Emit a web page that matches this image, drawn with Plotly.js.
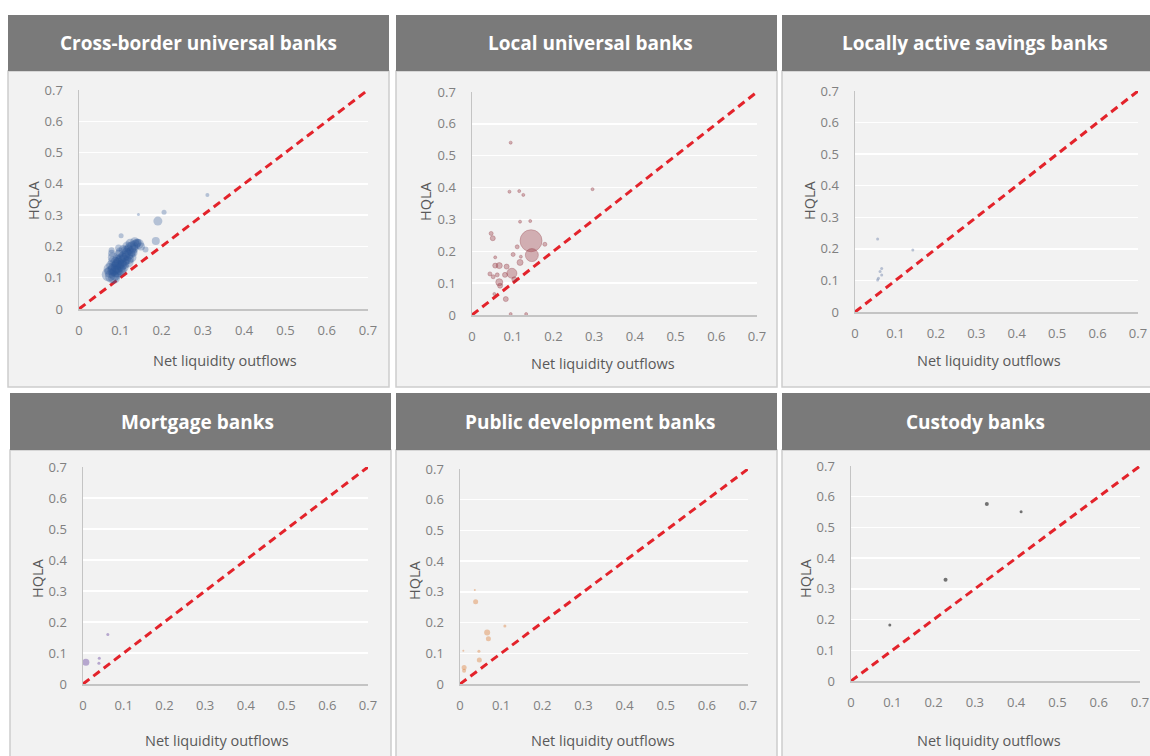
<!DOCTYPE html>
<html>
<head>
<meta charset="utf-8">
<script src="https://cdn.plot.ly/plotly-3.0.1.min.js"></script>
<style>
  html, body { margin: 0; padding: 0; background: #ffffff; }
  #chart { width: 1150px; height: 756px; }
</style>
</head>
<body>
<div id="chart"></div>
<script>
// Panel titles
const panelTitles = [
  'Cross-border universal banks',
  'Local universal banks',
  'Locally active savings banks',
  'Mortgage banks',
  'Public development banks',
  'Custody banks'
];

// Shared axis ticks
const tickValues = [0, 0.1, 0.2, 0.3, 0.4, 0.5, 0.6, 0.7];
const tickLabels = ['0', '0.1', '0.2', '0.3', '0.4', '0.5', '0.6', '0.7'];
const xTitle = 'Net liquidity outflows';
const yTitle = 'HQLA';

// Cross-border universal banks: net outflows, HQLA, bubble size
const crossBorderX = [0.072, 0.076, 0.080, 0.083, 0.078, 0.086, 0.090, 0.088, 0.093, 0.095,
                      0.098, 0.092, 0.100, 0.103, 0.105, 0.108, 0.110, 0.097, 0.112, 0.115,
                      0.118, 0.120, 0.123, 0.125, 0.128, 0.130, 0.133, 0.136, 0.140, 0.145,
                      0.150, 0.082, 0.087, 0.094, 0.099, 0.106, 0.113, 0.119, 0.127, 0.079,
                      0.085, 0.091, 0.102, 0.107, 0.117, 0.124, 0.135, 0.142, 0.161, 0.186,
                      0.191, 0.206, 0.144, 0.311, 0.102, 0.079, 0.096, 0.074, 0.084, 0.101,
                      0.109, 0.121, 0.131];
const crossBorderY = [0.110, 0.118, 0.105, 0.125, 0.140, 0.130, 0.120, 0.150, 0.135, 0.145,
                      0.128, 0.160, 0.150, 0.140, 0.165, 0.155, 0.170, 0.175, 0.160, 0.180,
                      0.172, 0.190, 0.178, 0.195, 0.185, 0.200, 0.192, 0.205, 0.210, 0.208,
                      0.200, 0.165, 0.112, 0.118, 0.182, 0.135, 0.188, 0.150, 0.165, 0.178,
                      0.100, 0.142, 0.125, 0.190, 0.200, 0.210, 0.215, 0.212, 0.190, 0.217,
                      0.281, 0.309, 0.302, 0.364, 0.234, 0.188, 0.195, 0.128, 0.152, 0.160,
                      0.145, 0.160, 0.180];
const crossBorderSize = [14, 12, 14, 12, 10, 13, 12, 10, 13, 12,
                         12, 9, 13, 11, 10, 12, 11, 9, 12, 10,
                         11, 10, 11, 12, 10, 11, 9, 10, 9, 10,
                         8, 10, 13, 11, 9, 12, 9, 11, 10, 7,
                         12, 10, 11, 9, 10, 9, 9, 8, 6, 8,
                         9, 5, 3, 4, 5, 6, 7, 12, 11, 10,
                         11, 10, 9];

// Local universal banks
const localX = [0.095, 0.092, 0.116, 0.126, 0.296, 0.118, 0.143, 0.047, 0.051, 0.145,
                0.147, 0.179, 0.111, 0.101, 0.118, 0.120, 0.057, 0.057, 0.067, 0.085,
                0.098, 0.081, 0.062, 0.044, 0.052, 0.067, 0.069, 0.055, 0.083, 0.095,
                0.133, 0.104];
const localY = [0.541, 0.387, 0.389, 0.377, 0.395, 0.293, 0.295, 0.256, 0.241, 0.233,
                0.188, 0.222, 0.214, 0.190, 0.165, 0.183, 0.181, 0.155, 0.155, 0.152,
                0.131, 0.126, 0.126, 0.129, 0.120, 0.103, 0.092, 0.066, 0.050, 0.003,
                0.003, 0.112];
const localSize = [3, 3, 3, 3, 3, 3, 3, 4, 5, 22,
                   13, 4, 4, 4, 6, 3, 3, 5, 6, 5,
                   10, 5, 4, 4, 4, 7, 5, 3, 5, 3,
                   3, 5];

// Locally active savings banks
const savingsX = [0.056, 0.143, 0.066, 0.062, 0.066, 0.058, 0.056];
const savingsY = [0.231, 0.196, 0.138, 0.128, 0.117, 0.107, 0.101];
const savingsSize = [3, 3, 3, 3, 3, 3, 3];

// Mortgage banks
const mortgageX = [0.007, 0.040, 0.039, 0.061];
const mortgageY = [0.070, 0.083, 0.067, 0.160];
const mortgageSize = [7, 3, 3, 3];

// Public development banks
const publicX = [0.038, 0.109, 0.066, 0.069, 0.046, 0.047, 0.010, 0.010, 0.008, 0.036];
const publicY = [0.268, 0.189, 0.168, 0.147, 0.107, 0.078, 0.054, 0.043, 0.108, 0.306];
const publicSize = [5, 3, 6, 5, 3, 5, 5, 4, 2, 2];

// Custody banks
const custodyX = [0.329, 0.412, 0.229, 0.094];
const custodyY = [0.576, 0.551, 0.330, 0.182];
const custodySize = [4, 3, 4, 3];

// 45-degree reference line
const diagonal = [0, 0.7];

const W = 1150, H = 756;
const fx = v => v / W;
const fy = v => 1 - v / H;

// Pixel geometry of each panel: box [left, right, headerTop, headerBottom, bodyBottom],
// plot [left, right, top, bottom], title centres, axis-title anchors
const panels = [
  { box: [8, 389, 15, 71, 387],    plot: [79, 368, 90, 309],   titleX: 198,
    xt: [225, 361], yt: [33, 200],
    x: crossBorderX, y: crossBorderY, s: crossBorderSize,
    color: 'rgba(46,89,152,0.45)', edge: 'rgba(46,89,152,0)' },
  { box: [396, 777, 15, 71, 387],  plot: [472, 757, 92, 315],  titleX: 590,
    xt: [603, 363], yt: [426, 201],
    x: localX, y: localY, s: localSize,
    color: 'rgba(150,50,60,0.5)', edge: 'rgba(140,45,55,0.45)' },
  { box: [782, 1160, 15, 71, 387], plot: [855, 1138, 91, 312], titleX: 975,
    xt: [989, 361], yt: [809, 200],
    x: savingsX, y: savingsY, s: savingsSize,
    color: 'rgba(100,122,165,0.6)', edge: 'rgba(0,0,0,0)' },
  { box: [10, 391, 393, 450, 770], plot: [83, 368, 467, 684],  titleX: 197,
    xt: [217, 740], yt: [37, 578],
    x: mortgageX, y: mortgageY, s: mortgageSize,
    color: 'rgba(128,100,175,0.75)', edge: 'rgba(0,0,0,0)' },
  { box: [396, 777, 393, 450, 770], plot: [460, 748, 469, 684], titleX: 590,
    xt: [603, 740], yt: [414, 580],
    x: publicX, y: publicY, s: publicSize,
    color: 'rgba(222,128,60,0.6)', edge: 'rgba(0,0,0,0)' },
  { box: [782, 1160, 393, 450, 770], plot: [851, 1140, 466, 681], titleX: 975,
    xt: [989, 740], yt: [805, 578],
    x: custodyX, y: custodyY, s: custodySize,
    color: 'rgba(40,40,40,0.9)', edge: 'rgba(0,0,0,0)' }
];

const tickFont = { family: 'Open Sans, sans-serif', size: 13, color: '#808080' };
const titleFont = { family: 'Open Sans, sans-serif', size: 14.5, color: '#595959' };

const data = [];
const shapes = [];
const annotations = [];
const layout = {
  width: W, height: H,
  margin: { l: 0, r: 0, t: 0, b: 0 },
  paper_bgcolor: '#ffffff',
  plot_bgcolor: 'rgba(0,0,0,0)',
  showlegend: false,
  shapes: shapes,
  annotations: annotations
};

panels.forEach((p, i) => {
  const n = i === 0 ? '' : String(i + 1);
  const [bl, br, ht, hb, bb] = p.box;
  const [pl, pr, pt, pb] = p.plot;

  // panel body and header
  shapes.push({ type: 'rect', xref: 'paper', yref: 'paper', layer: 'below',
    x0: fx(bl), x1: fx(br), y0: fy(bb), y1: fy(hb),
    fillcolor: '#f2f2f2', line: { color: '#cdcdcd', width: 1.5 } });
  shapes.push({ type: 'rect', xref: 'paper', yref: 'paper', layer: 'below',
    x0: fx(bl), x1: fx(br), y0: fy(hb), y1: fy(ht),
    fillcolor: '#7a7a7a', line: { width: 0 } });

  annotations.push({ xref: 'paper', yref: 'paper', x: fx(p.titleX), y: fy((ht + hb) / 2),
    text: panelTitles[i], showarrow: false, xanchor: 'center', yanchor: 'middle',
    font: { family: 'Open Sans, sans-serif', size: 19, color: '#ffffff', weight: 700 } });
  annotations.push({ xref: 'paper', yref: 'paper', x: fx(p.xt[0]), y: fy(p.xt[1]),
    text: xTitle, showarrow: false, xanchor: 'center', yanchor: 'middle', font: titleFont });
  annotations.push({ xref: 'paper', yref: 'paper', x: fx(p.yt[0]), y: fy(p.yt[1]),
    text: yTitle, showarrow: false, textangle: -90, xanchor: 'center', yanchor: 'middle',
    font: titleFont });

  layout['xaxis' + n] = {
    domain: [fx(pl), fx(pr)], anchor: 'y' + n, range: [0, 0.7],
    tickvals: tickValues, ticktext: tickLabels, ticks: '', ticklabelstandoff: 9,
    showgrid: false, zeroline: false, showline: true, linecolor: '#c4c4c4', linewidth: 1.5,
    tickfont: tickFont, fixedrange: true
  };
  layout['yaxis' + n] = {
    domain: [fy(pb), fy(pt)], anchor: 'x' + n, range: [0, 0.7],
    tickvals: tickValues, ticktext: tickLabels, ticks: '', ticklabelstandoff: 12,
    showgrid: true, gridcolor: '#ffffff', gridwidth: 1.5, zeroline: false,
    showline: true, linecolor: '#c4c4c4', linewidth: 1.5,
    tickfont: tickFont, fixedrange: true
  };

  data.push({
    type: 'scatter', mode: 'lines', x: diagonal, y: diagonal,
    xaxis: 'x' + n, yaxis: 'y' + n, cliponaxis: false, hoverinfo: 'skip',
    line: { color: '#e3232b', width: 3, dash: '8px,5px' }
  });
  data.push({
    type: 'scatter', mode: 'markers', x: p.x, y: p.y,
    xaxis: 'x' + n, yaxis: 'y' + n, cliponaxis: false,
    marker: { size: p.s, color: p.color, line: { width: 1, color: p.edge } }
  });
});

Plotly.newPlot('chart', data, layout, { displayModeBar: false, staticPlot: true });
</script>
</body>
</html>
